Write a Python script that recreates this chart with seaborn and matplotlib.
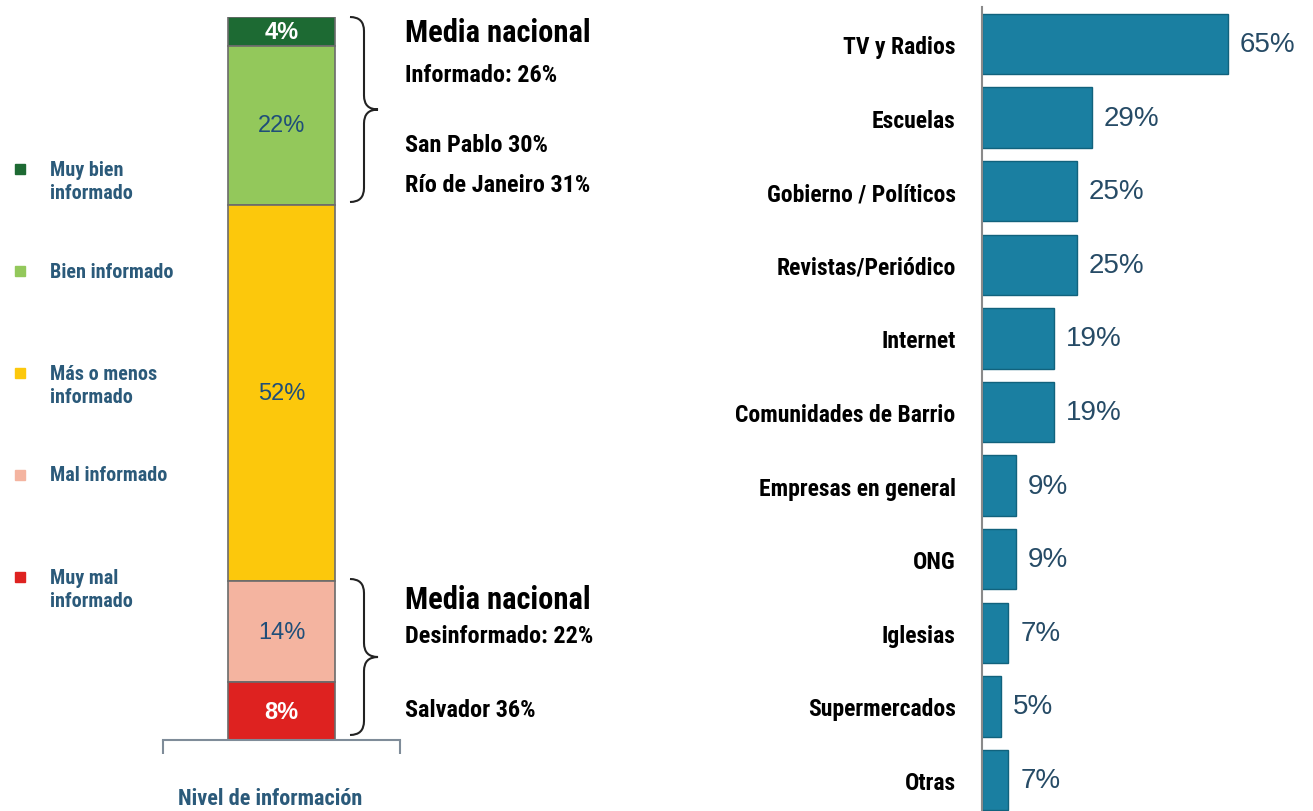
import matplotlib.pyplot as plt
import seaborn as sns
import pandas as pd
from matplotlib.path import Path
from matplotlib.patches import PathPatch

# datos - nivel de informacion (de arriba hacia abajo)
niveles = ['Muy bien informado', 'Bien informado', 'Más o menos informado', 'Mal informado', 'Muy mal informado']
leyenda = ['Muy bien\ninformado', 'Bien informado', 'Más o menos\ninformado', 'Mal informado', 'Muy mal\ninformado']
porcentajes = [4, 22, 52, 14, 8]
colores_nivel = ['#1d6a33', '#93c85b', '#fcc80c', '#f4b4a0', '#de2220']
color_texto_nivel = ['white', '#1f4e79', '#1f4e79', '#1f4e79', 'white']

# datos - fuentes de informacion
fuentes = ['TV y Radios', 'Escuelas', 'Gobierno / Políticos', 'Revistas/Periódico', 'Internet',
           'Comunidades de Barrio', 'Empresas en general', 'ONG', 'Iglesias', 'Supermercados', 'Otras']
valores = [65, 29, 25, 25, 19, 19, 9, 9, 7, 5, 7]

W, H = 1313, 812
NARROW = ['Roboto Condensed', 'Archivo Narrow', 'PT Sans Narrow', 'Liberation Sans Narrow', 'DejaVu Sans']
REG = ['Liberation Sans', 'DejaVu Sans']
AZUL_TXT = '#2b5a7a'

sns.set_style('white')
plt.rcParams['font.family'] = REG
plt.rcParams['text.color'] = 'black'
plt.rcParams['ytick.color'] = 'black'

fig = plt.figure(figsize=(W / 100, H / 100), dpi=100)


def px(x, y):
    return x / W, 1 - y / H


def llave(x0, ytop, ybot, w, r=14):
    ym = (ytop + ybot) / 2
    xm = x0 + w / 2
    pts = [(x0, ytop), (xm, ytop), (xm, ytop + r), (xm, ym - r), (xm, ym), (x0 + w, ym),
           (xm, ym), (xm, ym + r), (xm, ybot - r), (xm, ybot), (x0, ybot)]
    codes = [Path.MOVETO, Path.CURVE3, Path.CURVE3, Path.LINETO, Path.CURVE3, Path.CURVE3,
             Path.CURVE3, Path.CURVE3, Path.LINETO, Path.CURVE3, Path.CURVE3]
    p = Path([px(*q) for q in pts], codes)
    fig.patches.append(PathPatch(p, facecolor='none', edgecolor='#222222', lw=1.5,
                                 transform=fig.transFigure))


# ---- barra apilada ----
x0, x1, ytop, ybase = 163, 400, 18, 741
ax1 = fig.add_axes([x0 / W, 1 - ybase / H, (x1 - x0) / W, (ybase - ytop) / H])
ax1.set_xlim(-1.1, 1.1)
ax1.set_ylim(0, sum(porcentajes))
fondo = sum(porcentajes)
for nombre, val, col, ctxt in zip(niveles, porcentajes, colores_nivel, color_texto_nivel):
    fondo -= val
    ax1.bar(0, val, bottom=fondo, width=1.0, color=col, edgecolor='#6b6b6b', linewidth=1.2)
    ax1.text(0, fondo + val / 2, f'{val}%', ha='center', va='center', fontsize=17,
             color=ctxt, fontweight='bold' if ctxt == 'white' else 'normal')
for s in ['top', 'right', 'left']:
    ax1.spines[s].set_visible(False)
ax1.spines['bottom'].set_color('#7f8c99')
ax1.spines['bottom'].set_linewidth(1.5)
ax1.set_yticks([])
ax1.set_xticks([-1.1, 1.1])
ax1.set_xticklabels(['', ''])
ax1.tick_params(axis='x', bottom=True, length=10, width=1.5, color='#7f8c99', direction='out')
fig.text(*px(270, 799), 'Nivel de información', family=NARROW, fontsize=16, fontweight='bold',
         color=AZUL_TXT, ha='center', va='center')

# leyenda manual
for i, (etq, col) in enumerate(zip(leyenda, colores_nivel)):
    yy = 170 + i * 102
    fig.patches.append(plt.Rectangle(px(15, yy + 5), 10 / W, 10 / H, color=col,
                                     transform=fig.transFigure))
    dy = 12 if '\n' in etq else 0
    fig.text(*px(50, yy + dy), etq, family=NARROW, fontsize=14.5, fontweight='bold',
             color=AZUL_TXT, va='center', ha='left', linespacing=1.3)

# llaves y textos
llave(350, 18, 203, 28)
llave(350, 580, 736, 28)
fig.text(*px(405, 33), 'Media nacional', family=NARROW, fontsize=22, fontweight='bold', va='center')
fig.text(*px(405, 75), 'Informado: 26%', family=NARROW, fontsize=17.5, fontweight='bold', va='center')
fig.text(*px(405, 146), 'San Pablo 30%', family=NARROW, fontsize=17.5, fontweight='bold', va='center')
fig.text(*px(405, 186), 'Río de Janeiro 31%', family=NARROW, fontsize=17.5, fontweight='bold', va='center')
fig.text(*px(405, 600), 'Media nacional', family=NARROW, fontsize=22, fontweight='bold', va='center')
fig.text(*px(405, 637), 'Desinformado: 22%', family=NARROW, fontsize=17.5, fontweight='bold', va='center')
fig.text(*px(405, 711), 'Salvador 36%', family=NARROW, fontsize=17.5, fontweight='bold', va='center')

# ---- barras horizontales ----
paso = 73.6
ya = 45 - paso / 2
yb = 781 + paso / 2
ax2 = fig.add_axes([982 / W, 1 - yb / H, (W - 982) / W, (yb - ya) / H])
df = pd.DataFrame({'fuente': fuentes, 'valor': valores})
sns.barplot(data=df, x='valor', y='fuente', ax=ax2, color='#1a7fa1', width=0.82,
            edgecolor='#11627d', linewidth=1, saturation=1)
ax2.set_xlim(0, 87.5)
ax2.set_ylim(len(fuentes) - 0.5, -0.5)
for i, v in enumerate(valores):
    ax2.text(v + 3.2, i, f'{v}%', va='center', ha='left', fontsize=20, color='#264b66')
ax2.set_xlabel('')
ax2.set_ylabel('')
ax2.set_xticks([])
ax2.tick_params(axis='y', length=0, pad=19, labelcolor='black')
for lbl in ax2.get_yticklabels():
    lbl.set_family(NARROW)
    lbl.set_fontweight('bold')
    lbl.set_fontsize(17)
for s in ['top', 'right', 'bottom']:
    ax2.spines[s].set_visible(False)
ax2.spines['left'].set_color('#8a8a8a')
ax2.spines['left'].set_linewidth(1.5)

fig.savefig('out.png', dpi=100)
